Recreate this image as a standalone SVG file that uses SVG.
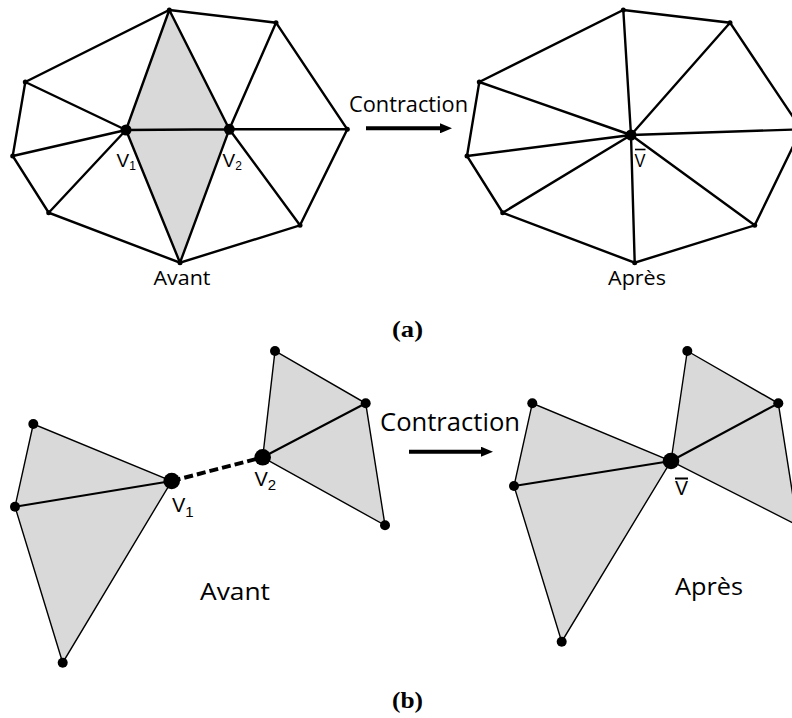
<svg xmlns="http://www.w3.org/2000/svg" width="792" height="718" viewBox="0 0 792 718">
<style>
.bg{fill:#ffffff}
.face{fill:#d9d9d9;stroke:none}
.e1{stroke:#000;stroke-width:2.4;fill:none;stroke-linecap:round}
.e2{stroke:#000;stroke-width:1.4;fill:none;stroke-linecap:round}
.e3{stroke:#000;stroke-width:2.1;fill:none;stroke-linecap:round}
.dash{stroke:#000;stroke-width:4;fill:none;stroke-dasharray:9 4}
.arrow{stroke:#000;stroke-width:4;fill:none}
.lbl{font-family:"Open Sans","Liberation Sans",sans-serif;fill:#000}
.v{font-family:"Liberation Sans",Arial,sans-serif;fill:#000}
.cap{font-family:"Liberation Serif","Times New Roman",serif;font-weight:bold;fill:#000}
.dot{fill:#000}
</style>
<defs>
<marker id="ah" markerUnits="userSpaceOnUse" markerWidth="12" markerHeight="10" refX="0" refY="5" orient="auto">
<path d="M0,0 L12,5 L0,10 Z" fill="#000"/>
</marker>
</defs>
<rect class="bg" x="0" y="0" width="792" height="718"/>

<!-- Panel (a) before -->
<g id="a-before">
<polygon class="face" points="169.3,10 126,130 180,262.7 229.3,129.3"/>
<g id="a-before-edges">
<polygon class="e1" points="169.3,10 276,22.7 347.3,129.3 300,225.3 180,262.7 48.7,212.7 12.7,156 25.3,82"/>
<path class="e1" d="M126,130 L25.3,82 M126,130 L12.7,156 M126,130 L48.7,212.7 M126,130 L169.3,10 M126,130 L180,262.7 M126,130 L229.3,129.3 M229.3,129.3 L169.3,10 M229.3,129.3 L276,22.7 M229.3,129.3 L347.3,129.3 M229.3,129.3 L300,225.3 M229.3,129.3 L180,262.7"/>
</g>
<g id="a-before-vertices">
<circle class="dot" cx="169.3" cy="10" r="2.5"/>
<circle class="dot" cx="276" cy="22.7" r="2.5"/>
<circle class="dot" cx="347.3" cy="129.3" r="2.5"/>
<circle class="dot" cx="300" cy="225.3" r="2.5"/>
<circle class="dot" cx="180" cy="262.7" r="2.5"/>
<circle class="dot" cx="48.7" cy="212.7" r="2.5"/>
<circle class="dot" cx="12.7" cy="156" r="2.5"/>
<circle class="dot" cx="25.3" cy="82" r="2.5"/>
</g>
<g id="a-v1"><circle class="dot" cx="126" cy="130" r="5.5"/><text class="v" x="116.5" y="166.7" font-size="19">V<tspan font-size="12" dy="3.5">1</tspan></text></g>
<g id="a-v2"><circle class="dot" cx="229.3" cy="129.3" r="5.5"/><text class="v" x="222.5" y="166.7" font-size="19">V<tspan font-size="12" dy="3.5">2</tspan></text></g>
<text class="lbl" x="182" y="285" font-size="20" text-anchor="middle" textLength="57" lengthAdjust="spacingAndGlyphs">Avant</text>
</g>

<!-- Panel (a) arrow -->
<g id="a-arrow">
<text class="lbl" x="349" y="112" font-size="21" textLength="119" lengthAdjust="spacingAndGlyphs">Contraction</text>
<line class="arrow" x1="366" y1="128.3" x2="440" y2="128.3" marker-end="url(#ah)"/>
</g>

<!-- Panel (a) after -->
<g id="a-after">
<g id="a-after-edges">
<polygon class="e1" points="623.3,10 730,22.7 801.3,129.3 754.7,225.3 634.7,262.7 502.7,212.7 467,156 479.3,82"/>
<path class="e1" d="M631,135 L623.3,10 M631,135 L730,22.7 M631,135 L801.3,129.3 M631,135 L754.7,225.3 M631,135 L634.7,262.7 M631,135 L502.7,212.7 M631,135 L467,156 M631,135 L479.3,82"/>
</g>
<g id="a-after-vertices">
<circle class="dot" cx="623.3" cy="10" r="2.5"/>
<circle class="dot" cx="730" cy="22.7" r="2.5"/>
<circle class="dot" cx="754.7" cy="225.3" r="2.5"/>
<circle class="dot" cx="634.7" cy="262.7" r="2.5"/>
<circle class="dot" cx="502.7" cy="212.7" r="2.5"/>
<circle class="dot" cx="467" cy="156" r="2.5"/>
<circle class="dot" cx="479.3" cy="82" r="2.5"/>
</g>
<g id="a-vbar"><circle class="dot" cx="631" cy="135" r="5.5"/><text class="v" x="634.5" y="166.7" font-size="19" textLength="11" lengthAdjust="spacingAndGlyphs">V</text><line x1="635" y1="149.5" x2="645.5" y2="149.5" stroke="#000" stroke-width="1.6"/></g>
<text class="lbl" x="637" y="285" font-size="20" text-anchor="middle" textLength="58" lengthAdjust="spacingAndGlyphs">Après</text>
</g>

<text class="cap" x="392" y="336.7" font-size="24" textLength="31" lengthAdjust="spacingAndGlyphs">(a)</text>

<!-- Panel (b) before -->
<g id="b-before">
<polygon class="face" points="33.3,424 15,506.7 62.7,662.7 171.7,481"/>
<polygon class="face" points="262.7,457.3 275,351 365.7,403.3 385,525.3"/>
<g id="b-before-edges">
<polygon class="e2" points="33.3,424 15,506.7 62.7,662.7 171.7,481"/>
<line class="e3" x1="15" y1="506.7" x2="171.7" y2="481"/>
<polygon class="e2" points="262.7,457.3 275,351 365.7,403.3 385,525.3"/>
<line class="e3" x1="262.7" y1="457.3" x2="365.7" y2="403.3"/>
<line class="dash" x1="171.7" y1="481" x2="262.7" y2="457.3"/>
</g>
<g id="b-before-vertices">
<circle class="dot" cx="33.3" cy="424" r="5"/>
<circle class="dot" cx="15" cy="506.7" r="5"/>
<circle class="dot" cx="62.7" cy="662.7" r="5"/>
<circle class="dot" cx="275" cy="351" r="5"/>
<circle class="dot" cx="365.7" cy="403.3" r="5"/>
<circle class="dot" cx="385" cy="525.3" r="5"/>
</g>
<g id="b-v1"><circle class="dot" cx="171.7" cy="481" r="8.3"/><text class="v" x="172" y="511.7" font-size="20">V<tspan font-size="15" dy="5">1</tspan></text></g>
<g id="b-v2"><circle class="dot" cx="262.7" cy="457.3" r="8.3"/><text class="v" x="254.5" y="486" font-size="20">V<tspan font-size="15" dy="4">2</tspan></text></g>
<text class="lbl" x="235" y="600" font-size="23" text-anchor="middle" textLength="70" lengthAdjust="spacingAndGlyphs">Avant</text>
</g>

<!-- Panel (b) arrow -->
<g id="b-arrow">
<text class="lbl" x="380" y="430.7" font-size="25" textLength="140" lengthAdjust="spacingAndGlyphs">Contraction</text>
<line class="arrow" x1="409" y1="451.7" x2="481" y2="451.7" marker-end="url(#ah)"/>
</g>

<!-- Panel (b) after -->
<g id="b-after">
<polygon class="face" points="532.3,403.3 514,486 561.7,641.7 671,461"/>
<polygon class="face" points="671,461 687.3,351 778.3,403.3 797.5,525.3"/>
<g id="b-after-edges">
<polygon class="e2" points="532.3,403.3 514,486 561.7,641.7 671,461"/>
<line class="e3" x1="514" y1="486" x2="671" y2="461"/>
<polygon class="e2" points="671,461 687.3,351 778.3,403.3 797.5,525.3"/>
<line class="e3" x1="671" y1="461" x2="778.3" y2="403.3"/>
</g>
<g id="b-after-vertices">
<circle class="dot" cx="532.3" cy="403.3" r="5"/>
<circle class="dot" cx="514" cy="486" r="5"/>
<circle class="dot" cx="561.7" cy="641.7" r="5"/>
<circle class="dot" cx="687.3" cy="351" r="5"/>
<circle class="dot" cx="778.3" cy="403.3" r="5"/>
</g>
<g id="b-vbar"><circle class="dot" cx="671" cy="461" r="8.3"/><text class="v" x="675" y="495" font-size="20" textLength="13" lengthAdjust="spacingAndGlyphs">V</text><line x1="675" y1="478.5" x2="688" y2="478.5" stroke="#000" stroke-width="2"/></g>
<text class="lbl" x="709" y="595" font-size="23" text-anchor="middle" textLength="68" lengthAdjust="spacingAndGlyphs">Après</text>
</g>

<text class="cap" x="392" y="708.3" font-size="24" textLength="31" lengthAdjust="spacingAndGlyphs">(b)</text>
</svg>
